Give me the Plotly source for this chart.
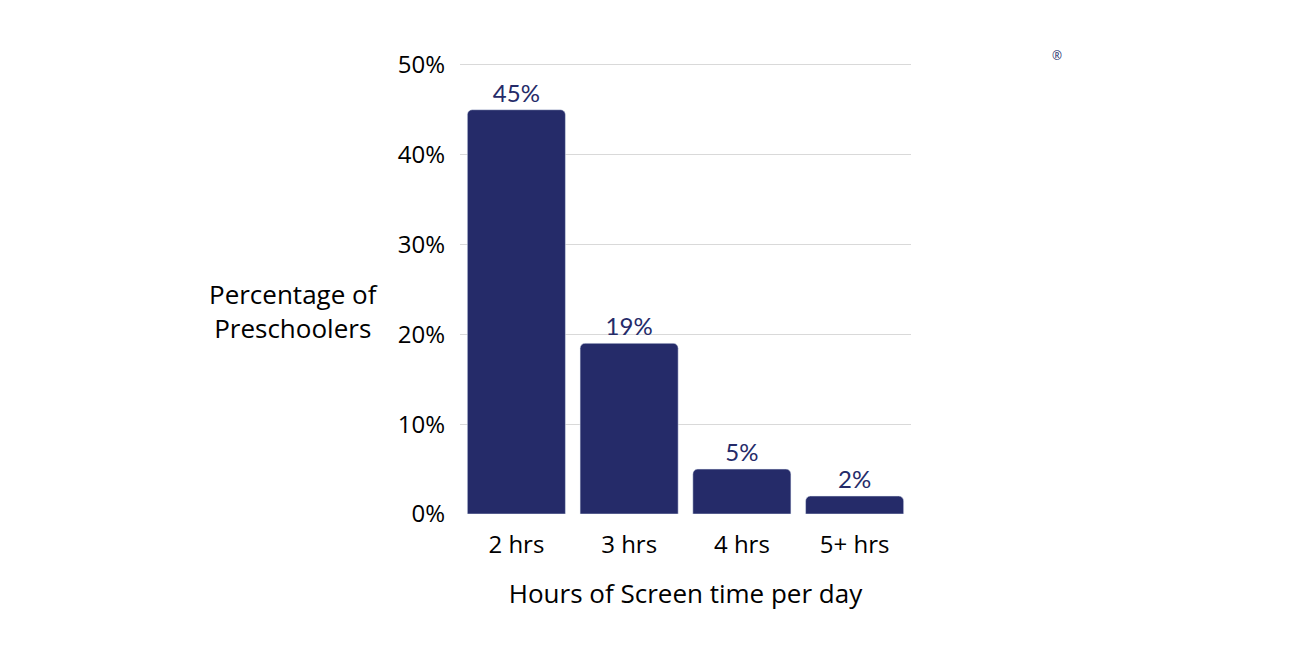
import plotly.graph_objects as go

hours = ["2 hrs", "3 hrs", "4 hrs", "5+ hrs"]
pct = [45, 19, 5, 2]
bar_text = ["45%", "19%", "5%", "2%"]

navy = "#252b69"

fig = go.Figure(go.Bar(
    x=hours, y=pct, text=bar_text, textposition="outside",
    textfont=dict(family="Lato", size=24, color=navy),
    marker=dict(color=navy, cornerradius=5),
    cliponaxis=False,
))

fig.update_layout(
    width=1300, height=650,
    margin=dict(l=452, r=397, t=55, b=144),
    paper_bgcolor="white", plot_bgcolor="white",
    bargap=0.13, showlegend=False,
    font=dict(family="Open Sans", size=24, color="black"),
    xaxis=dict(title=dict(text="Hours of Screen time per day", standoff=25,
                          font=dict(size=26)),
               tickfont=dict(size=24), showline=False, ticks="",
               ticklabelstandoff=14, automargin=False),
    yaxis=dict(range=[0, 50.2], dtick=10, ticksuffix="%", showgrid=True,
               gridcolor="#d9d9d9", zeroline=False, tickfont=dict(size=24),
               ticklabelstandoff=14, automargin=False),
    annotations=[
        dict(text="Percentage of<br>Preschoolers", xref="paper", yref="paper",
             x=-0.56, y=0.45, showarrow=False, font=dict(size=26),
             align="center"),
        dict(text="®", xref="paper", yref="paper", x=1.34, y=1.04,
             showarrow=False, font=dict(size=12, color=navy)),
    ],
)

fig.write_html("out.html")
